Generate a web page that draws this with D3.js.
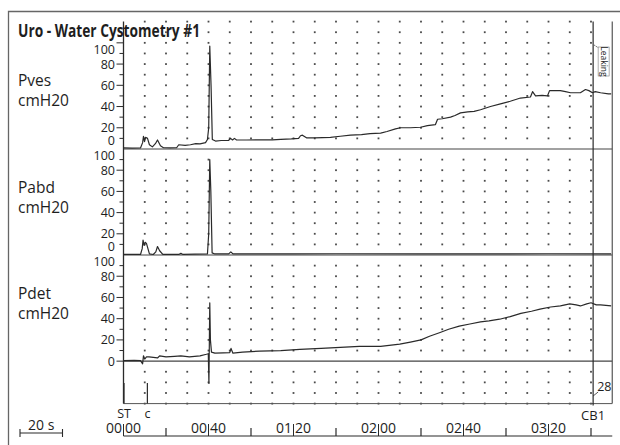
<!DOCTYPE html>
<html>
<head>
<meta charset="utf-8">
<script src="https://cdn.jsdelivr.net/npm/d3@7"></script>
<style>
  body { margin: 0; background: #fff; }
  text { font-family: "Open Sans", sans-serif; fill: #1e1e1e; }
</style>
</head>
<body>
<svg width="620" height="445"></svg>
<script>
// traces, [time in s, cmH2O]
var pves = [[0,1],[4,0.8],[8,1],[9,6],[9.4,12],[9.9,7],[10.4,11],[11.3,10],[12.2,4],[13.6,2],[15,5],[16,8.5],[17.4,3],[18.8,1.2],[22,1],[25,1.2],[26,4],[29,3.5],[31.5,4],[34,5],[36,4.8],[38.6,6],[39.5,9],[40.1,20],[40.6,97],[41.2,60],[41.8,9],[43.3,7.5],[46,8],[49.4,8],[50.4,10],[51.3,8.5],[52.2,10],[53.2,8.5],[58,8.5],[64.5,8.7],[70,8.6],[74,9],[79,9.5],[82.4,10],[83.3,12.5],[84.2,13],[86.1,10.5],[90,10.5],[97.4,11],[102,12],[106.8,13],[112,13.5],[116,14.5],[121,15],[124,16.5],[128,19],[130.4,20],[135,20],[139.8,20.5],[143,22],[146.8,23],[147.8,28],[150,28.5],[153.9,30],[156,31.5],[158.6,34],[162,35],[165,35.5],[168,37],[172.7,40],[177.4,42.5],[182,45],[186.8,48],[191.5,49],[192.5,54],[193.9,50],[197,50.5],[199.5,50],[200.5,55],[205.6,55],[208,54],[210.4,53],[215,53],[217.4,56],[219,55],[220.7,53],[222,54],[224.5,53],[228.2,52],[229.5,52]];
var pabd = [[0,0.5],[8,0.5],[8.8,6],[9.2,14],[9.7,9],[10.2,12],[10.8,11],[11.5,6],[12.2,1],[14,0.5],[15.2,3],[16,8],[17,4],[18.5,0.5],[26,0.5],[27,1.5],[28,0.5],[39.5,1],[40.1,20],[40.6,90],[41.1,60],[41.7,2],[43,1],[49.5,1],[50.5,3],[51.5,1],[60,1],[80,1],[100,1.2],[140,1],[180,1],[200,1.2],[229.5,1]];
var pdet = [[0,0.5],[5,0.8],[8,0.5],[9,-2.5],[9.4,5],[10,2],[10.8,4],[12,4],[14,3.5],[16,3],[17,5],[20,4],[24,4.5],[27,5],[31,4],[36,5],[39,6.5],[39.9,7],[40.2,-21],[40.6,55],[40.9,20],[41.4,8.5],[43,7.5],[47,7.8],[50,8],[50.6,12],[51.5,7.5],[56,8.5],[64,9.5],[74,10],[83,11],[93,12],[102,13],[111,14],[121,14],[130,16],[135,18],[140,20],[144,23.5],[149,27],[153,30],[158,33],[163,35],[168,37],[172,38],[177,39.5],[182,42],[187,45],[192,47],[196,49],[201,51],[205.6,52],[210,54],[213,53],[215,52],[218,54],[220,55],[222.5,53],[224.5,53],[229.5,52]];

var channelNames = ["Pves", "Pabd", "Pdet"];
var unitLabel = "cmH20";
var yLabels = [0, 20, 40, 60, 80, 100];
var timeLabels = [0, 40, 80, 120, 160, 200];
var timeMinor = [20, 60, 100, 140, 180, 220];
var eventTimes = [0, 11];
var eventLabels = ["ST", "c"];
var cbTime = 221, cbLabel = "CB1", cbVolume = "28", noteText = "Leaking";
var title = "Uro - Water Cystometry #1";

var svg = d3.select("svg");
var ink = "#2a2a2a";

var x = d3.scaleLinear().domain([0, 230]).range([123.5, 612.25]);

var panels = [
  { name: channelNames[0], data: pves, y: d3.scaleLinear().domain([0, 120]).range([149, 21.6]), labelY: 80, labelMin: 49 },
  { name: channelNames[1], data: pabd, y: d3.scaleLinear().domain([0, 100]).range([255, 149]), labelY: 187, labelMin: 155 },
  { name: channelNames[2], data: pdet, y: d3.scaleLinear().domain([-40, 100]).range([403.6, 255]), labelY: 293, labelMin: 261 }
];

// outer frame
svg.append("path").attr("d", "M8.5,445V11.5H620")
  .attr("fill", "none").attr("stroke", "#666").attr("stroke-width", 1.3);

// title
svg.append("text").attr("x", 18).attr("y", 37)
  .attr("font-size", 17).attr("font-weight", "bold")
  .attr("textLength", 182).attr("lengthAdjust", "spacingAndGlyphs")
  .text(title);

var cols = d3.range(10, 230, 10);

panels.forEach(function (p, i) {
  var d0 = p.y.domain()[0], d1 = p.y.domain()[1];
  var top = p.y.range()[1], bottom = p.y.range()[0];

  // dotted grid
  var rows = d3.range(d0, d1 + 1, 10).filter(function (v) {
    return v != 0 && !(i > 0 && v == d1);
  });
  var g = svg.append("g");
  rows.forEach(function (v) {
    g.selectAll(null).data(cols).enter().append("rect")
      .attr("x", function (t) { return x(t) - 0.9; })
      .attr("y", p.y(v) - 0.9)
      .attr("width", 1.8).attr("height", 1.8)
      .attr("fill", "#4a4a4a");
  });

  // solid zero / divider line
  svg.append("line")
    .attr("x1", x(0)).attr("x2", x(230))
    .attr("y1", p.y(0)).attr("y2", p.y(0))
    .attr("stroke", "#444").attr("stroke-width", 1.2);

  // ticks on the left axis
  var ticks = d3.range(0, 101, 10).filter(function (v) {
    return p.y(v) > top + 0.5 && p.y(v) < bottom - 0.5 || (v == 0 && d0 < 0);
  });
  svg.selectAll(null).data(ticks).enter().append("line")
    .attr("x1", function (v) { return v % 20 == 0 ? x(0) - 7 : x(0) - 4; })
    .attr("x2", x(0))
    .attr("y1", function (v) { return p.y(v); })
    .attr("y2", function (v) { return p.y(v); })
    .attr("stroke", ink).attr("stroke-width", 1);

  svg.selectAll(null).data(yLabels).enter().append("text")
    .attr("x", 115)
    .attr("y", function (v) { return Math.max(p.labelMin, Math.min(bottom - 9, p.y(v))); })
    .attr("dy", "0.36em")
    .attr("text-anchor", "end")
    .attr("font-size", 12.5)
    .text(function (v) { return v; });

  // channel name
  svg.append("text").attr("x", 18).attr("y", p.labelY).attr("dy", "0.36em")
    .attr("font-size", 15.5).text(p.name);
  svg.append("text").attr("x", 18).attr("y", p.labelY + 20).attr("dy", "0.36em")
    .attr("font-size", 15.5).text(unitLabel);

  // trace
  var line = d3.line()
    .x(function (d) { return x(d[0]); })
    .y(function (d) { return p.y(d[1]); });
  svg.append("path").datum(p.data)
    .attr("d", line)
    .attr("fill", "none")
    .attr("stroke", ink)
    .attr("stroke-width", 1.2)
    .attr("stroke-linejoin", "round");
});

var yTop = panels[0].y.range()[1];
var yBot = panels[2].y.range()[0];

// bottom line, left axis, right border
svg.append("line").attr("x1", x(0)).attr("x2", x(230)).attr("y1", yBot).attr("y2", yBot)
  .attr("stroke", "#555").attr("stroke-width", 1);
svg.append("line").attr("x1", x(0)).attr("x2", x(0)).attr("y1", yTop).attr("y2", yBot)
  .attr("stroke", ink).attr("stroke-width", 1.3);
svg.append("line").attr("x1", x(230)).attr("x2", x(230)).attr("y1", yTop).attr("y2", yBot)
  .attr("stroke", "#555").attr("stroke-width", 1.2);

// event markers
svg.selectAll(null).data(eventTimes).enter().append("line")
  .attr("x1", function (t) { return x(t) + 0.5; })
  .attr("x2", function (t) { return x(t) + 0.5; })
  .attr("y1", 383).attr("y2", yBot)
  .attr("stroke", ink).attr("stroke-width", 1.2);
svg.selectAll(null).data(eventLabels).enter().append("text")
  .attr("x", function (d, i) { return x(eventTimes[i]) + 0.5; })
  .attr("y", 418)
  .attr("text-anchor", "middle")
  .attr("font-size", 12.5)
  .text(function (d) { return d; });

// CB1 marker
svg.append("line").attr("x1", x(cbTime)).attr("x2", x(cbTime))
  .attr("y1", yTop).attr("y2", yBot + 2)
  .attr("stroke", ink).attr("stroke-width", 1.2);
svg.append("text").attr("x", x(cbTime)).attr("y", 420)
  .attr("text-anchor", "middle").attr("font-size", 13).text(cbLabel);
svg.append("line").attr("x1", x(cbTime)).attr("x2", x(cbTime) + 5)
  .attr("y1", 396).attr("y2", 392).attr("stroke", ink).attr("stroke-width", 0.8);
svg.append("text").attr("x", x(cbTime) + 4).attr("y", 391)
  .attr("font-size", 12.5).text(cbVolume);

// note
svg.append("line").attr("x1", x(cbTime) + 1).attr("x2", x(cbTime) + 7)
  .attr("y1", 45).attr("y2", 49)
  .attr("stroke", ink).attr("stroke-width", 0.8).attr("stroke-dasharray", "1.5,1");
svg.append("rect").attr("x", x(cbTime) + 5).attr("y", 47).attr("width", 11).attr("height", 29)
  .attr("fill", "#fff").attr("stroke", "#777").attr("stroke-width", 0.6);
svg.append("text")
  .attr("transform", "translate(" + (x(cbTime) + 10.5) + ",61.5) rotate(90)")
  .attr("text-anchor", "middle").attr("dy", "0.35em")
  .attr("font-size", 8.5).text(noteText);

// time axis
var axisY = 436;
svg.append("line").attr("x1", x(0)).attr("x2", x(230)).attr("y1", axisY).attr("y2", axisY)
  .attr("stroke", ink).attr("stroke-width", 1.2);
svg.selectAll(null).data(timeMinor).enter().append("line")
  .attr("x1", function (t) { return x(t); }).attr("x2", function (t) { return x(t); })
  .attr("y1", axisY - 8).attr("y2", axisY)
  .attr("stroke", ink).attr("stroke-width", 1.2);
svg.selectAll(null).data(timeLabels).enter().append("line")
  .attr("x1", function (t) { return x(t); }).attr("x2", function (t) { return x(t); })
  .attr("y1", axisY - 12).attr("y2", axisY)
  .attr("stroke", ink).attr("stroke-width", 1);

function pad(n) { return (n < 10 ? "0" : "") + n; }
svg.selectAll(null).data(timeLabels).enter().append("text")
  .attr("x", function (t) { return x(t) - 1.5; })
  .attr("y", 433).attr("text-anchor", "end").attr("font-size", 14)
  .text(function (t) { return pad(Math.floor(t / 60)); });
svg.selectAll(null).data(timeLabels).enter().append("text")
  .attr("x", function (t) { return x(t) + 1.5; })
  .attr("y", 433).attr("text-anchor", "start").attr("font-size", 14)
  .text(function (t) { return pad(t % 60); });

// 20 s scale bar
var barLen = x(20) - x(0);
svg.append("path")
  .attr("d", "M20,429V437M20,433H" + (20 + barLen) + "M" + (20 + barLen) + ",429V437")
  .attr("fill", "none").attr("stroke", ink).attr("stroke-width", 1.1);
svg.append("text").attr("x", 20 + barLen / 2).attr("y", 430)
  .attr("text-anchor", "middle").attr("font-size", 14).text("20 s");
</script>
</body>
</html>
